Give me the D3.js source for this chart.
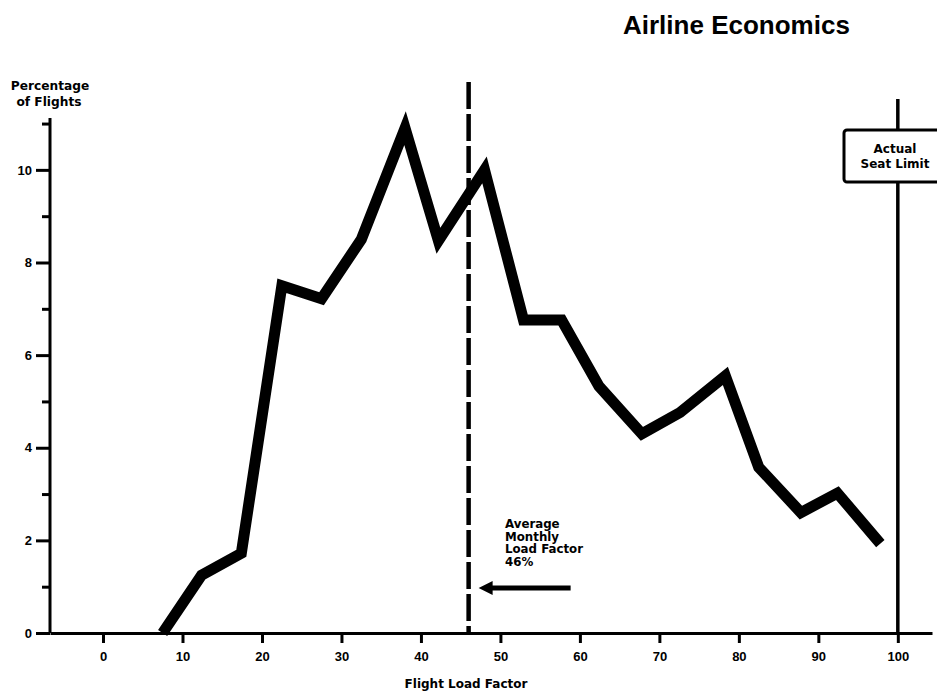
<!DOCTYPE html>
<html>
<head>
<meta charset="utf-8">
<script src="https://cdn.jsdelivr.net/npm/d3@7"></script>
<style>
  html, body { margin: 0; padding: 0; background: #fff; }
  svg text { font-family: "Liberation Sans", Arial, Helvetica, sans-serif; font-weight: bold; fill: #000; }
  svg text.lab { font-family: "DejaVu Sans", "Liberation Sans", sans-serif; }
</style>
</head>
<body>
<svg id="chart" width="937" height="693"></svg>
<script>
// ---- data ----
const loadFactor = [7.5, 12.4, 17.4, 22.5, 27.5, 32.5, 38, 42.2, 48, 52.9, 57.7, 62.4, 67.8, 72.6, 78.3, 82.5, 87.8, 92.4, 97.8];
const pctFlights = [0, 1.25, 1.72, 7.5, 7.22, 8.5, 10.9, 8.47, 10.0, 6.76, 6.76, 5.33, 4.3, 4.76, 5.55, 3.58, 2.6, 3.02, 1.93];
const xTicks = [0, 10, 20, 30, 40, 50, 60, 70, 80, 90, 100];
const yMajorTicks = [0, 2, 4, 6, 8, 10];
const yMinorTicks = [1, 3, 5, 7, 9, 11];
const avgLoadFactor = 46;
const seatLimit = 100;
const title = "Airline Economics";
const yLabel = ["Percentage", "of Flights"];
const xLabel = "Flight Load Factor";
const avgLabel = ["Average", "Monthly", "Load Factor", "46%"];
const seatLabel = ["Actual", "Seat Limit"];

// ---- scales ----
const svg = d3.select("#chart");
const x = d3.scaleLinear().domain([-6.67, 104.3]).range([50, 932]);
const y = d3.scaleLinear().domain([0, 11.12]).range([633, 118]);

// title
svg.append("text").attr("x", 623).attr("y", 34).attr("font-size", 26).text(title);

// y label
svg.append("text").attr("class", "lab").attr("x", 50).attr("y", 90).attr("text-anchor", "middle").attr("font-size", 12.2).text(yLabel[0]);
svg.append("text").attr("class", "lab").attr("x", 49).attr("y", 106).attr("text-anchor", "middle").attr("font-size", 12.2).text(yLabel[1]);

// y axis
const yAxisMajor = svg.append("g").attr("transform", "translate(50,0)")
  .call(d3.axisLeft(y).tickValues(yMajorTicks).tickSize(14).tickPadding(4).tickFormat(d3.format("d")));
const yAxisMinor = svg.append("g").attr("transform", "translate(50,0)")
  .call(d3.axisLeft(y).tickValues(yMinorTicks).tickSize(8).tickFormat(""));
[yAxisMajor, yAxisMinor].forEach(g => {
  g.select(".domain").attr("stroke", "#000").attr("stroke-width", 3);
  g.selectAll(".tick line").attr("stroke", "#000").attr("stroke-width", 3);
  g.selectAll(".tick text").attr("font-size", 13).attr("font-family", "Liberation Sans, Arial, sans-serif").attr("font-weight", "bold");
});
yAxisMinor.select(".domain").remove();
yAxisMajor.select(".domain").attr("d", `M0,${y(0)}V${y(11.12)}`);

// x axis
const xAxis = svg.append("g").attr("transform", `translate(0,${y(0)})`)
  .call(d3.axisBottom(x).tickValues(xTicks).tickSize(10).tickPadding(9).tickSizeOuter(0).tickFormat(d3.format("d")));
xAxis.select(".domain").attr("stroke", "#000").attr("stroke-width", 3);
xAxis.selectAll(".tick line").attr("stroke", "#000").attr("stroke-width", 3);
xAxis.selectAll(".tick text").attr("font-size", 13).attr("font-family", "Liberation Sans, Arial, sans-serif").attr("font-weight", "bold");

// x label
svg.append("text").attr("class", "lab").attr("x", 466).attr("y", 688).attr("text-anchor", "middle").attr("font-size", 12).text(xLabel);

// seat limit line
svg.append("line")
  .attr("x1", x(seatLimit)).attr("x2", x(seatLimit))
  .attr("y1", 99).attr("y2", y(0))
  .attr("stroke", "#000").attr("stroke-width", 3.5);
svg.append("rect").attr("x", 844).attr("y", 130).attr("width", 110).attr("height", 52).attr("rx", 3)
  .attr("fill", "#fff").attr("stroke", "#000").attr("stroke-width", 3);
svg.append("text").attr("class", "lab").attr("x", 895).attr("y", 153).attr("text-anchor", "middle").attr("font-size", 12).text(seatLabel[0]);
svg.append("text").attr("class", "lab").attr("x", 895).attr("y", 168).attr("text-anchor", "middle").attr("font-size", 12).text(seatLabel[1]);

// the curve
const line = d3.line().x((d, i) => x(loadFactor[i])).y((d, i) => y(pctFlights[i]));
svg.append("path").datum(pctFlights)
  .attr("d", line)
  .attr("fill", "none").attr("stroke", "#000").attr("stroke-width", 11)
  .attr("stroke-linejoin", "miter").attr("stroke-miterlimit", 10).attr("stroke-linecap", "butt");

// average dashed line
svg.append("line")
  .attr("x1", x(avgLoadFactor)).attr("x2", x(avgLoadFactor))
  .attr("y1", 82).attr("y2", y(0))
  .attr("stroke", "#000").attr("stroke-width", 4.5).attr("stroke-dasharray", "27,5");

// arrow + label
const ax = x(avgLoadFactor);
svg.append("line").attr("x1", ax + 20).attr("x2", ax + 102).attr("y1", 588).attr("y2", 588)
  .attr("stroke", "#000").attr("stroke-width", 5);
svg.append("path").attr("d", `M${ax + 10},588 L${ax + 24},581 L${ax + 24},595 Z`).attr("fill", "#000");
avgLabel.forEach((t, i) => {
  svg.append("text").attr("class", "lab").attr("x", 505).attr("y", 528 + i * 12.5).attr("font-size", 11.8).text(t);
});
</script>
</body>
</html>
